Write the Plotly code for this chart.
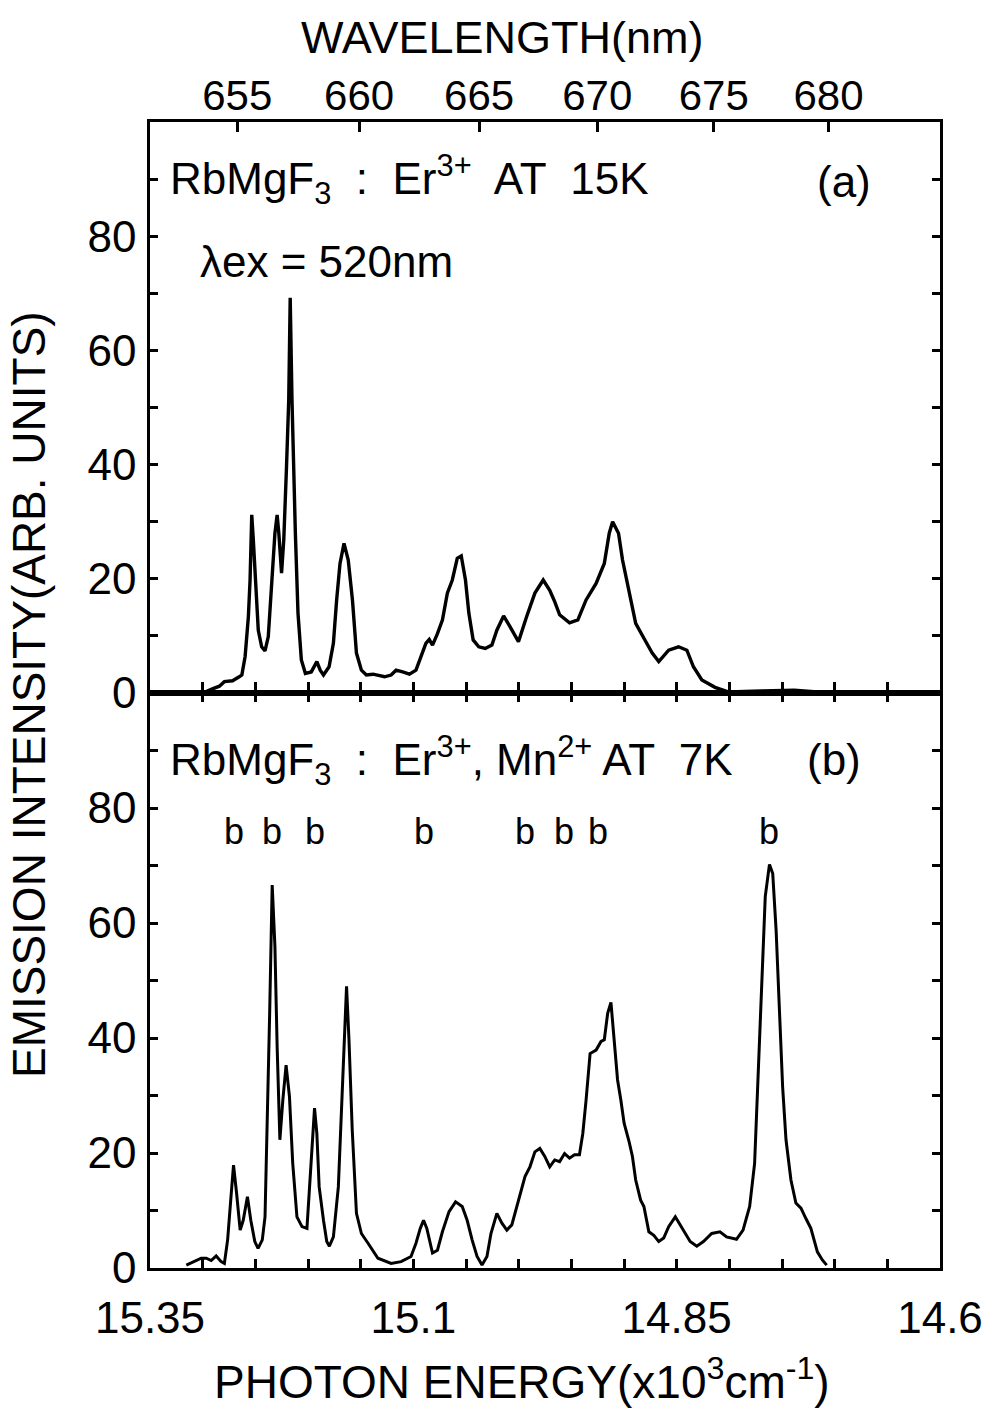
import plotly.graph_objects as go

# Photon energy (x10^3 cm^-1) and emission intensity, panel (a): RbMgF3:Er3+ at 15 K
energy_a = [
    15.3140, 15.2998, 15.2919, 15.2841, 15.2794, 15.2716, 15.2653, 15.2628, 15.2597, 15.2566,
    15.2550, 15.2534, 15.2519, 15.2496, 15.2472, 15.2440, 15.2408, 15.2377, 15.2345, 15.2314,
    15.2293, 15.2277, 15.2251, 15.2230, 15.2204, 15.2183, 15.2169, 15.2152, 15.2120, 15.2095,
    15.2063, 15.2025, 15.1969, 15.1916, 15.1884, 15.1853, 15.1800, 15.1759, 15.1728, 15.1696,
    15.1658, 15.1618, 15.1578, 15.1540, 15.1493, 15.1446, 15.1383, 15.1273, 15.1211, 15.1164,
    15.1101, 15.1037, 15.0975, 15.0928, 15.0881, 15.0849, 15.0818, 15.0771, 15.0724, 15.0677,
    15.0630, 15.0583, 15.0545, 15.0505, 15.0473, 15.0432, 15.0379, 15.0317, 15.0254, 15.0207,
    15.0143, 15.0081, 15.0002, 14.9924, 14.9846, 14.9767, 14.9705, 14.9658, 14.9611, 14.9517,
    14.9438, 14.9360, 14.9265, 14.9187, 14.9140, 14.9108, 14.9052, 14.9014, 14.8936, 14.8889,
    14.8811, 14.8732, 14.8670, 14.8623, 14.8576, 14.8482, 14.8403, 14.8341, 14.8261, 14.8136,
    14.8011, 14.7697, 14.7384, 14.7164, 14.6694,
]
intensity_a = [
    0.2, 0.0, 0.65, 1.2, 2.0, 2.15, 2.85, 3.15, 6.4, 13.4,
    19.8, 31.2, 26.8, 18.6, 11.0, 8.1, 7.4, 9.9, 18.6, 28.0,
    31.2, 28.0, 21.0, 26.8, 39.6, 51.3, 69.2, 51.3, 28.0, 14.0,
    5.8, 3.45, 3.7, 5.5, 4.0, 3.15, 4.6, 8.7, 16.3, 22.7,
    26.2, 23.3, 16.3, 7.0, 4.0, 3.15, 3.3, 2.85, 3.15, 4.0,
    3.7, 3.3, 4.0, 6.4, 8.7, 9.4, 8.4, 10.4, 12.8, 17.5,
    19.8, 23.6, 24.0, 19.8, 14.0, 9.3, 8.1, 7.8, 8.4, 11.0,
    13.5, 11.6, 9.0, 13.4, 17.5, 19.8, 18.0, 16.0, 13.7, 12.3,
    12.8, 16.3, 19.2, 22.7, 28.0, 30.0, 28.0, 23.3, 16.3, 12.2,
    9.6, 7.0, 5.5, 6.4, 7.5, 8.1, 7.5, 4.6, 2.3, 1.0,
    0.2, 0.35, 0.5, 0.2, 0.0,
]

# Panel (b): RbMgF3:Er3+,Mn2+ at 7 K
energy_b = [
    15.3155, 15.3077, 15.3014, 15.2966, 15.2919, 15.2872, 15.2825, 15.2794, 15.2763, 15.2731,
    15.2707, 15.2678, 15.2644, 15.2615, 15.2575, 15.2543, 15.2505, 15.2474, 15.2434, 15.2408,
    15.2387, 15.2364, 15.2340, 15.2314, 15.2293, 15.2267, 15.2239, 15.2208, 15.2176, 15.2145,
    15.2105, 15.2057, 15.2010, 15.1978, 15.1957, 15.1938, 15.1916, 15.1894, 15.1853, 15.1822,
    15.1797, 15.1759, 15.1712, 15.1681, 15.1656, 15.1634, 15.1611, 15.1580, 15.1540, 15.1493,
    15.1430, 15.1336, 15.1211, 15.1116, 15.1022, 15.0975, 15.0934, 15.0903, 15.0872, 15.0818,
    15.0771, 15.0724, 15.0661, 15.0599, 15.0536, 15.0489, 15.0442, 15.0395, 15.0348, 15.0301,
    15.0263, 15.0207, 15.0159, 15.0112, 15.0065, 15.0018, 14.9940, 14.9893, 14.9846, 14.9799,
    14.9752, 14.9705, 14.9658, 14.9611, 14.9564, 14.9517, 14.9470, 14.9423, 14.9391, 14.9360,
    14.9322, 14.9265, 14.9218, 14.9187, 14.9155, 14.9124, 14.9093, 14.9061, 14.9030, 14.8999,
    14.8952, 14.8920, 14.8889, 14.8842, 14.8811, 14.8764, 14.8717, 14.8670, 14.8623, 14.8576,
    14.8513, 14.8450, 14.8372, 14.8309, 14.8246, 14.8167, 14.8089, 14.8026, 14.7932, 14.7870,
    14.7807, 14.7760, 14.7729, 14.7697, 14.7659, 14.7619, 14.7588, 14.7556, 14.7525, 14.7494,
    14.7462, 14.7415, 14.7368, 14.7320, 14.7273, 14.7226, 14.7164, 14.7117, 14.7076,
]
intensity_b = [
    0.5, 1.1, 1.7, 1.7, 1.3, 2.1, 1.1, 0.8, 4.9, 12.4,
    17.9, 13.0, 6.6, 8.3, 12.4, 8.3, 4.6, 3.4, 4.9, 8.9,
    24.0, 44.3, 66.6, 55.9, 38.5, 22.3, 29.2, 35.3, 29.8, 18.2,
    8.9, 7.2, 6.9, 16.5, 24.0, 27.8, 23.4, 14.1, 8.3, 4.6,
    3.8, 5.4, 14.1, 26.9, 38.5, 49.0, 39.7, 24.0, 9.5, 6.0,
    4.3, 1.7, 0.8, 1.1, 2.0, 4.3, 6.9, 8.3, 6.9, 2.6,
    3.1, 6.3, 9.8, 11.5, 10.7, 8.3, 4.9, 2.0, 0.5, 2.0,
    6.0, 9.5, 7.8, 6.6, 7.5, 10.7, 15.9, 17.6, 20.2, 20.8,
    19.4, 17.6, 18.8, 18.5, 19.9, 19.1, 19.7, 19.7, 23.4, 29.2,
    37.3, 37.9, 39.4, 39.7, 44.3, 46.2, 39.7, 32.7, 29.2, 25.2,
    22.0, 19.4, 15.3, 11.8, 10.7, 6.3, 5.7, 4.6, 5.2, 7.2,
    8.9, 6.9, 4.6, 3.8, 4.6, 6.0, 6.3, 5.4, 5.0, 6.6,
    10.7, 18.2, 32.7, 50.1, 64.6, 70.2, 68.6, 58.8, 44.3, 31.5,
    22.3, 15.3, 11.3, 10.4, 8.6, 6.9, 2.8, 1.4, 0.5,
]

# Lines marked "b" in panel (b)
b_mark_energy = [15.270, 15.234, 15.193, 15.090, 14.994, 14.957, 14.925, 14.762]
b_mark_level = 76

# Axis ticks
energy_ticks = [15.35, 15.30, 15.25, 15.20, 15.15, 15.10, 15.05, 15.00,
                14.95, 14.90, 14.85, 14.80, 14.75, 14.70, 14.65, 14.60]
energy_labels = ["15.35", "", "", "", "", "15.1", "", "",
                 "", "", "14.85", "", "", "", "", "14.6"]
wavelength_ticks_nm = [655, 660, 665, 670, 675, 680]
intensity_ticks = [0, 10, 20, 30, 40, 50, 60, 70, 80, 90]
intensity_labels = ["0", "", "20", "", "40", "", "60", "", "80", ""]

E_RANGE = [15.35, 14.60]
FONT = "Liberation Sans, Arial, Helvetica, sans-serif"
SPLIT = 0.5017

fig = go.Figure()
fig.add_trace(go.Scatter(x=energy_a, y=intensity_a, xaxis="x2", yaxis="y2",
                         mode="lines", line=dict(color="black", width=3.4),
                         showlegend=False, hoverinfo="skip"))
fig.add_trace(go.Scatter(x=energy_b, y=intensity_b, xaxis="x", yaxis="y",
                         mode="lines", line=dict(color="black", width=3),
                         showlegend=False, hoverinfo="skip"))
# carrier trace for the wavelength axis
fig.add_trace(go.Scatter(x=[E_RANGE[0]], y=[None], xaxis="x3", yaxis="y2",
                         mode="lines", showlegend=False, hoverinfo="skip"))

axis_common = dict(showgrid=False, zeroline=False, showline=True, linecolor="black",
                   linewidth=2.6, ticks="inside", tickcolor="black", tickwidth=2.5)

fig.update_layout(
    width=995, height=1410,
    margin=dict(l=150, r=48, t=122, b=142),
    paper_bgcolor="white", plot_bgcolor="white",
    font=dict(family=FONT, color="black", size=42),
    xaxis=dict(**axis_common, domain=[0, 1], anchor="y", range=E_RANGE,
               tickmode="array", tickvals=energy_ticks, ticktext=energy_labels,
               ticklen=9, mirror="ticks", tickfont=dict(size=44),
               ticklabelstandoff=9),
    xaxis2=dict(**axis_common, domain=[0, 1], anchor="y2", range=E_RANGE,
                tickmode="array", tickvals=energy_ticks, ticktext=[""] * len(energy_ticks),
                ticklen=11, mirror=True, showticklabels=False),
    xaxis3=dict(**axis_common, overlaying="x2", anchor="y2", side="top", range=E_RANGE,
                tickmode="array",
                tickvals=[1e4 / w for w in wavelength_ticks_nm],
                ticktext=[str(w) for w in wavelength_ticks_nm],
                ticklen=10, tickfont=dict(size=42), ticklabelstandoff=-8),
    yaxis=dict(**axis_common, domain=[0, SPLIT], anchor="x", range=[0, 100],
               tickmode="array", tickvals=intensity_ticks, ticktext=intensity_labels,
               ticklen=8, mirror="ticks", tickfont=dict(size=44), ticklabelstandoff=2),
    yaxis2=dict(**axis_common, domain=[SPLIT, 1], anchor="x2", range=[0, 100],
                tickmode="array", tickvals=intensity_ticks, ticktext=intensity_labels,
                ticklen=8, mirror="ticks", tickfont=dict(size=44), ticklabelstandoff=2),
)

annotations = [
    dict(text="WAVELENGTH(nm)", xref="paper", yref="paper", x=0.4467, y=1.0733,
         font=dict(size=45)),
    dict(text="PHOTON ENERGY(x10<sup>3</sup>cm<sup>-1</sup>)", xref="paper", yref="paper",
         x=0.4704, y=-0.0965, font=dict(size=46)),
    dict(text="EMISSION INTENSITY(ARB. UNITS)", xref="paper", yref="paper",
         x=-0.1531, y=0.5, textangle=-90, font=dict(size=46)),
    dict(text="RbMgF<sub>3</sub>  :  Er<sup>3+</sup>  AT  15K", xref="x2", yref="y2",
         x=15.3325, y=90, xanchor="left", font=dict(size=44)),
    dict(text="(a)", xref="x2", yref="y2", x=14.6913, y=89.5, font=dict(size=44)),
    dict(text="λex = 520nm", xref="x2", yref="y2", x=15.3048, y=75.5,
         xanchor="left", font=dict(size=44)),
    dict(text="RbMgF<sub>3</sub>  :  Er<sup>3+</sup>, Mn<sup>2+</sup> AT  7K", xref="x", yref="y",
         x=15.3325, y=88.3, xanchor="left", font=dict(size=44)),
    dict(text="(b)", xref="x", yref="y", x=14.7007, y=88.5, font=dict(size=44)),
]
for e in b_mark_energy:
    annotations.append(dict(text="b", xref="x", yref="y", x=e, y=b_mark_level,
                            font=dict(size=36)))
for a in annotations:
    a.setdefault("showarrow", False)
    a.setdefault("xanchor", "center")
    a.setdefault("yanchor", "middle")
fig.update_layout(annotations=annotations)

fig.write_html("out.html")
